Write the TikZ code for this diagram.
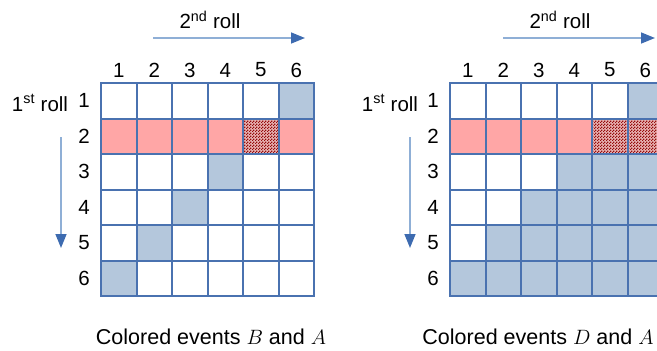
\documentclass[tikz,border=0pt]{standalone}
\usepackage{fontspec}
\setmainfont{Liberation Sans}
\usetikzlibrary{patterns,arrows.meta}
\pgfdeclarepatternformonly{finechecker}{\pgfpointorigin}{\pgfqpoint{3pt}{3pt}}{\pgfqpoint{3pt}{3pt}}{%
  \pgfpathrectangle{\pgfpointorigin}{\pgfqpoint{1.5pt}{1.5pt}}%
  \pgfpathrectangle{\pgfqpoint{1.5pt}{1.5pt}}{\pgfqpoint{1.5pt}{1.5pt}}%
  \pgfusepath{fill}}
\definecolor{gridblue}{HTML}{4A72B0}
\definecolor{cellblue}{HTML}{B4C7DC}
\definecolor{cellpink}{HTML}{FFA6A6}
\definecolor{hatchred}{HTML}{960C0C}
\definecolor{hatchbg}{HTML}{E8B4B4}
\definecolor{arrowline}{HTML}{8FAFD6}
\definecolor{arrowhead}{HTML}{3D6BB0}
\tikzset{
  cell/.style={draw=gridblue, line width=2pt, minimum size=35.5pt, inner sep=0pt, outer sep=0pt},
  wcell/.style={cell, fill=white},
  bcell/.style={cell, fill=cellblue},
  pcell/.style={cell, fill=cellpink},
  hcell/.style={cell, preaction={fill=hatchbg}, pattern=finechecker, pattern color=hatchred},
  lbl/.style={inner sep=0pt, font=\fontsize{20.5}{24}\selectfont},
  captiontext/.style={inner sep=0pt, font=\fontsize{21.5}{25}\selectfont},
  rollarrow/.style={draw=arrowline, line width=1.5pt, -{Triangle[length=14pt,width=11pt,color=arrowhead]}},
}
\begin{document}
\begin{tikzpicture}[x=1pt,y=-1pt]
\useasboundingbox (0,0) rectangle (657,351);
\clip (0,0) rectangle (657,351);
% left grid: events B (sum 7) and A (first roll 2)
\foreach \r in {1,...,6}{
  \foreach \c in {1,...,6}{
    \pgfmathtruncatemacro{\s}{\r+\c}
    \def\st{wcell}
    \ifnum\s=7 \def\st{bcell}\fi
    \ifnum\r=2 \ifnum\s=7 \def\st{hcell}\else\def\st{pcell}\fi\fi
    \node[\st] (L-\r-\c) at ({101+(\c-0.5)*35.5},{83+(\r-0.5)*35.5}) {};
  }
}
% right grid: events D (sum >= 7) and A
\foreach \r in {1,...,6}{
  \foreach \c in {1,...,6}{
    \pgfmathtruncatemacro{\s}{\r+\c}
    \def\st{wcell}
    \ifnum\s>6 \def\st{bcell}\fi
    \ifnum\r=2 \ifnum\s>6 \def\st{hcell}\else\def\st{pcell}\fi\fi
    \node[\st] (R-\r-\c) at ({450+(\c-0.5)*35.5},{83+(\r-0.5)*35.5}) {};
  }
}
% column and row numbers
\foreach \i in {1,...,6}{
  \node[lbl] (Lc\i) at ({101+(\i-0.5)*35.5},70) {\i};
  \node[lbl] (Rc\i) at ({450+(\i-0.5)*35.5},70) {\i};
  \node[lbl] (Lr\i) at (84,{83+(\i-0.5)*35.5}) {\i};
  \node[lbl] (Rr\i) at (433,{83+(\i-0.5)*35.5}) {\i};
}
% roll labels
\node[lbl] (L2nd) at (210,20) {2\textsuperscript{nd} roll};
\node[lbl] (R2nd) at (560,20) {2\textsuperscript{nd} roll};
\node[lbl] (L1st) at (40,103) {1\textsuperscript{st} roll};
\node[lbl] (R1st) at (390,103) {1\textsuperscript{st} roll};
% arrows
\coordinate (LhA) at (153,38); \coordinate (LhB) at (305,38);
\coordinate (RhA) at (503,38); \coordinate (RhB) at (655,38);
\coordinate (LvA) at (61,137); \coordinate (LvB) at (61,248);
\coordinate (RvA) at (410,137); \coordinate (RvB) at (410,248);
\draw[rollarrow] (LhA) -- (LhB);
\draw[rollarrow] (RhA) -- (RhB);
\draw[rollarrow] (LvA) -- (LvB);
\draw[rollarrow] (RvA) -- (RvB);
% captions
\node[captiontext] (capL) at (211,337) {Colored events $B$ and $A$};
\node[captiontext] (capR) at (538,337) {Colored events $D$ and $A$};
\end{tikzpicture}
\end{document}
